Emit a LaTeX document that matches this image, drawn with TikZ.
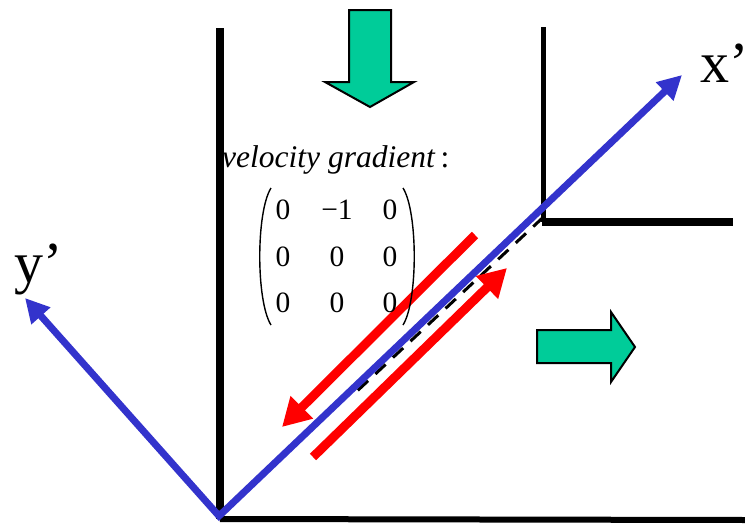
\documentclass[tikz,border=0pt]{standalone}
\usepackage{fontspec}
\setmainfont{Liberation Serif}
\usetikzlibrary{arrows.meta}
\definecolor{axisblue}{RGB}{51,51,204}
\definecolor{flowgreen}{RGB}{0,204,153}
\begin{document}
\begin{tikzpicture}[x=1pt,y=-1pt,
  axis/.style={draw=axisblue,line width=7pt,line join=miter,
    {Triangle[length=24pt,width=24pt]}-{Triangle[length=24pt,width=24pt]}},
  shear/.style={draw=red,line width=9pt,-{Triangle[length=28pt,width=30pt]}},
  flowarrow/.style={fill=flowgreen,draw=black,line width=2pt,line join=miter},
  entry/.style={font=\fontsize{29.5}{31}\selectfont,inner sep=0pt},
  axislabel/.style={font=\fontsize{58}{60}\selectfont,inner sep=0pt,anchor=base west},
  paren/.style={line width=1.4pt}]
\useasboundingbox (0,0) rectangle (745,525);
% key points
\coordinate (O) at (219,516);
\coordinate (wallTop) at (220,28);
\coordinate (wallFoot) at (220,519);
\coordinate (floorEnd) at (745,520);
\coordinate (stepTop) at (543.5,27);
\coordinate (corner) at (543.5,217);
\coordinate (cornerL) at (541.5,222);
\coordinate (stepEnd) at (733,222);
\coordinate (xtip) at (682,75);
\coordinate (ytip) at (25,298);
\coordinate (dashEnd) at (355,393);
% walls
\draw[line width=7.5pt] (wallTop) -- (wallFoot);
\draw[line width=6pt] (wallFoot) -- (floorEnd);
\draw[line width=5pt] (stepTop) -- (543.5,222);
\draw[line width=7.5pt] (cornerL) -- (stepEnd);
% flow arrows
\draw[flowarrow] (349,10) -- (391,10) -- (391,82) -- (414,82) -- (370,107) -- (325,82) -- (349,82) -- cycle;
\draw[flowarrow] (537,330) -- (611,330) -- (611,312) -- (635,347) -- (611,382) -- (611,363) -- (537,363) -- cycle;
% dashed plane
\draw[line width=3pt,dash pattern=on 14pt off 10pt] (corner) -- (dashEnd);
% shear arrows
\coordinate (s1a) at (475,235);
\coordinate (s1b) at (282,427);
\coordinate (s2a) at (313,457);
\coordinate (s2b) at (507,268);
\draw[shear] (s1a) -- (s1b);
\draw[shear] (s2a) -- (s2b);
% rotated axes
\draw[axis] (ytip) -- (O) -- (xtip);
\node[axislabel] (xl) at (700,82) {x’};
\node[axislabel] (yl) at (14,282) {y’};
% velocity gradient
\node[anchor=base west,inner sep=0pt,font=\fontsize{31.5}{33}\selectfont\itshape] (vg) at (222,167) {velocity gradient\hspace{6pt}{\upshape :}};
\node[entry] (m11) at (283,210) {0};
\node[entry] (m12) at (337,210) {−1};
\node[entry] (m13) at (390,210) {0};
\node[entry] (m21) at (283,257) {0};
\node[entry] (m22) at (337,257) {0};
\node[entry] (m23) at (390,257) {0};
\node[entry] (m31) at (283,303) {0};
\node[entry] (m32) at (337,303) {0};
\node[entry] (m33) at (390,303) {0};
\draw[paren] (271,188) .. controls (256,212) and (256,301) .. (271,325);
\draw[paren] (403,188) .. controls (418,212) and (418,301) .. (403,325);
\end{tikzpicture}
\end{document}
